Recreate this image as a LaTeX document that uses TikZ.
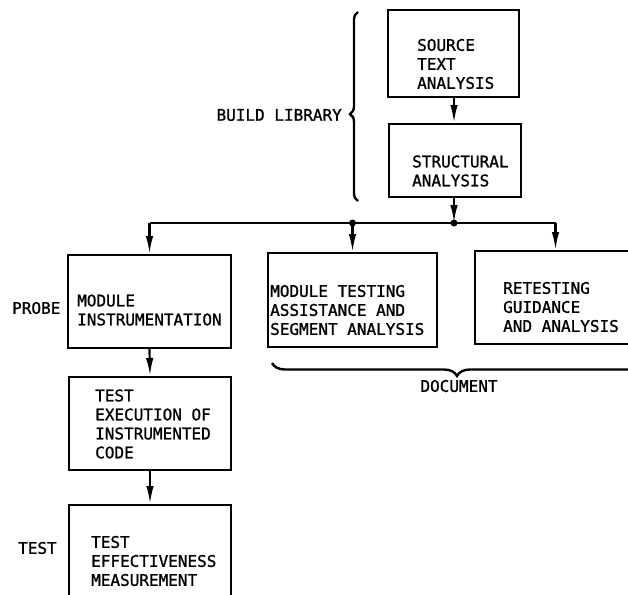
\documentclass[tikz,border=0pt]{standalone}
\usepackage{fontspec}
\usetikzlibrary{arrows.meta,decorations.pathreplacing}
\newfontfamily\lettering[FakeBold=1.2]{DejaVu Sans Mono}
\begin{document}
\begin{tikzpicture}[x=1pt,y=-1pt,
  box/.style={draw, line width=2pt, inner sep=0pt},
  lbl/.style={font=\lettering\fontsize{16}{19}\selectfont, align=left, inner sep=0pt},
  wire/.style={line width=2.2pt},
  arr/.style={line width=2.2pt, -{Latex[length=18pt,width=7.5pt]}},
  dot/.style={circle, fill=black, inner sep=0pt, minimum size=7pt},
  brc/.style={line width=2.4pt, decorate, decoration={brace, amplitude=#1}}
]
\useasboundingbox (0,0) rectangle (628,594);
\clip (0,0) rectangle (628,594);

% boxes of the flow chart
\node[box, minimum width=131pt, minimum height=87pt] (src) at (453.5,53.5) {};
\node[box, minimum width=132pt, minimum height=73pt] (str) at (455,160.5) {};
\node[box, minimum width=163pt, minimum height=93pt] (mi)  at (149.5,301.5) {};
\node[box, minimum width=162pt, minimum height=93pt] (te)  at (150,423.5) {};
\node[box, minimum width=162pt, minimum height=97pt] (tem) at (150,553.5) {};
\node[box, minimum width=169pt, minimum height=94pt] (mt)  at (352.5,300) {};
\node[box, minimum width=161pt, minimum height=93pt] (rg)  at (555.5,297.5) {};

% box texts
\node[lbl, anchor=west] (src-t) at (417,64)  {SOURCE\\TEXT\\ANALYSIS};
\node[lbl, anchor=west] (str-t) at (412,171) {STRUCTURAL\\ANALYSIS};
\node[lbl, anchor=west] (mi-t)  at (77,310)  {MODULE\\INSTRUMENTATION};
\node[lbl, anchor=west] (te-t)  at (95,424)  {TEST\\EXECUTION OF\\INSTRUMENTED\\CODE};
\node[lbl, anchor=west] (tem-t) at (91,561)  {TEST\\EFFECTIVENESS\\MEASUREMENT};
\node[lbl, anchor=west] (mt-t)  at (270,310) {MODULE TESTING\\ASSISTANCE AND\\SEGMENT ANALYSIS};
\node[lbl, anchor=west] (rg-t)  at (503,307) {RETESTING\\GUIDANCE\\AND ANALYSIS};

% side labels
\node[lbl, anchor=east] (build) at (342,115) {BUILD LIBRARY};
\node[lbl, anchor=west] (probe) at (12,308)  {PROBE};
\node[lbl, anchor=west] (test)  at (18,548)  {TEST};
\node[lbl] (doc) at (459,386) {DOCUMENT};

% distribution bus
\coordinate (js) at (454,223);
\coordinate (jl) at (mi.north |- js);
\coordinate (jm) at (mt.north |- js);
\coordinate (jr) at (rg.north |- js);

\draw[arr] (src.south -| js) -- (str.north -| js);
\draw[arr] (str.south -| js) -- (js);
\draw[wire, line join=round] (jl) -- (jr);
\draw[arr] (jl) -- (mi.north);
\draw[arr] (jm) -- (mt.north);
\draw[arr] (jr) -- (rg.north);
\draw[arr] (mi.south) -- (te.north);
\draw[arr] (te.south) -- (tem.north);
\node[dot] (d1) at (js) {};
\node[dot] (d2) at (jm) {};

% braces
\draw[brc=8pt, decoration={aspect=0.46}] (358,201) -- (358,12);
\draw[brc=13pt] (642,363) -- (272,363);
\end{tikzpicture}
\end{document}
